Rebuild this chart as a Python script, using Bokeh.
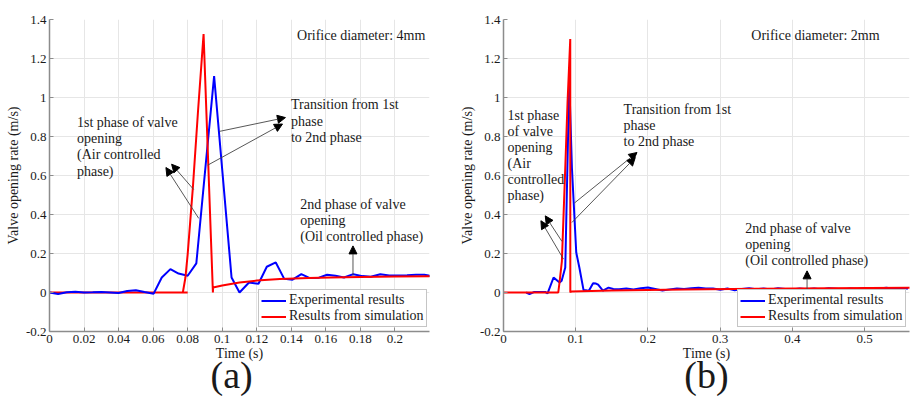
from bokeh.plotting import figure
from bokeh.layouts import row
from bokeh.models import (Range1d, FixedTicker, CustomJSTickFormatter, Legend, LegendItem,
                          Label, Arrow, NormalHead, Title)
from bokeh.embed import file_html
from bokeh.resources import INLINE

# ---------------- data ----------------
# Panel (a): orifice diameter 4 mm
exp_a_t = [0, 0.005, 0.01, 0.015, 0.02, 0.025, 0.03, 0.035, 0.04, 0.045, 0.05, 0.055,
           0.0603, 0.065, 0.070, 0.0747, 0.080, 0.085, 0.0953, 0.1054, 0.110, 0.1155,
           0.121, 0.1258, 0.131, 0.1359, 0.1407, 0.1458, 0.1507, 0.156, 0.1607, 0.1656,
           0.1705, 0.1759, 0.1812, 0.186, 0.1915, 0.1967, 0.2015, 0.207, 0.2122, 0.217, 0.221]
exp_a_v = [0, -0.008, 0.001, 0.004, 0.0, 0.001, 0.003, 0.0, -0.003, 0.008, 0.012, 0.003,
           -0.006, 0.077, 0.12, 0.097, 0.086, 0.149, 1.11, 0.077, 0.0, 0.051,
           0.045, 0.132, 0.154, 0.07, 0.066, 0.094, 0.074, 0.076, 0.091, 0.086,
           0.077, 0.094, 0.084, 0.081, 0.094, 0.087, 0.087, 0.089, 0.091, 0.091, 0.084]

sim_a_base_t = [0, 0.08]
sim_a_base_v = [0, 0]
sim_a_t = [0.0772, 0.0787, 0.080, 0.083, 0.086, 0.0892, 0.0946, 0.0947, 0.100, 0.105,
           0.110, 0.120, 0.1334, 0.150, 0.1625, 0.180, 0.200, 0.222]
sim_a_v = [0, 0.077, 0.197, 0.538, 0.932, 1.325, 0, 0.026, 0.036, 0.044,
           0.051, 0.061, 0.069, 0.074, 0.077, 0.080, 0.082, 0.084]

# Panel (b): orifice diameter 2 mm
exp_b_t = [0.0314, 0.036, 0.042, 0.05, 0.0577, 0.061, 0.0693, 0.0776, 0.0805, 0.0855,
           0.091, 0.0947, 0.1007, 0.105, 0.1108, 0.114, 0.118, 0.124, 0.128, 0.131,
           0.1376, 0.1454, 0.152, 0.16, 0.17, 0.18, 0.19, 0.2, 0.21, 0.22, 0.23, 0.24,
           0.25, 0.26, 0.27, 0.28, 0.29, 0.30, 0.31, 0.32, 0.33, 0.34, 0.35, 0.36, 0.37,
           0.38, 0.39, 0.40, 0.41, 0.42, 0.43, 0.44, 0.45, 0.46, 0.47, 0.48, 0.49, 0.50,
           0.51, 0.52, 0.53, 0.54, 0.55, 0.56]
exp_b_v = [0, -0.008, 0.002, 0.003, 0.003, -0.005, 0.077, 0.051, 0.06, 0.128,
           1.09, 0.64, 0.205, 0.128, 0.012, 0.012, 0.008, 0.048, 0.046, 0.04,
           0.01, 0.025, 0.018, 0.017, 0.02, 0.016, 0.022, 0.026, 0.018, 0.01, 0.016, 0.02,
           0.018, 0.022, 0.024, 0.02, 0.021, 0.014, 0.02, 0.012, 0.018, 0.022, 0.017, 0.02, 0.015,
           0.022, 0.018, 0.016, 0.021, 0.017, 0.02, 0.015, 0.022, 0.019, 0.016, 0.02, 0.018, 0.023,
           0.017, 0.02, 0.024, 0.019, 0.022, 0.02]

sim_b_t = [0, 0.0758, 0.0775, 0.0808, 0.0855, 0.0887, 0.0924, 0.0925, 0.0935,
           0.15, 0.25, 0.35, 0.45, 0.564]
sim_b_v = [0, 0, 0.05, 0.16, 0.64, 0.98, 1.30, 0, 0.005,
           0.01, 0.015, 0.019, 0.022, 0.025]

x_ticks_a = [0, 0.02, 0.04, 0.06, 0.08, 0.1, 0.12, 0.14, 0.16, 0.18, 0.2]
x_ticks_b = [0, 0.1, 0.2, 0.3, 0.4, 0.5]
y_ticks = [-0.2, 0, 0.2, 0.4, 0.6, 0.8, 1, 1.2, 1.4]

legend_labels = ["Experimental results", "Results from simulation"]

FONT = "Liberation Serif"
TXT = "#1a1a1a"
BLUE = "#0000ff"
RED = "#ff0000"
H = 396

fmt_code = "return String(Math.round(tick*1000)/1000);"


def base_fig(w, xmax, xticks, left, right, panel_label, label_offset):
    p = figure(width=w, height=H, output_backend="svg", toolbar_location=None,
               x_range=Range1d(0, xmax), y_range=Range1d(-0.2, 1.4),
               min_border_left=left, min_border_right=right,
               min_border_top=19, min_border_bottom=H - 331)
    p.outline_line_color = None
    p.background_fill_color = "white"
    p.border_fill_color = "white"
    for ax, ticks in ((p.xaxis, xticks), (p.yaxis, y_ticks)):
        ax.ticker = FixedTicker(ticks=ticks)
        ax.formatter = CustomJSTickFormatter(code=fmt_code)
        ax.axis_line_color = "#8c8c8c"
        ax.axis_line_width = 1.5
        ax.major_tick_line_color = "#8c8c8c"
        ax.major_tick_in = 4
        ax.major_tick_out = 0
        ax.minor_tick_line_color = None
        ax.major_label_text_font = FONT
        ax.major_label_text_font_size = "13px"
        ax.major_label_text_color = TXT
        ax.major_label_standoff = 3
    p.yaxis.axis_label = "Valve opening rate (m/s)"
    p.yaxis.axis_label_text_font = FONT
    p.yaxis.axis_label_text_font_size = "14px"
    p.yaxis.axis_label_text_font_style = "normal"
    p.yaxis.axis_label_text_color = TXT
    p.yaxis.axis_label_standoff = 2
    p.grid.grid_line_color = "#e6e6e6"
    p.grid.grid_line_width = 1
    p.add_layout(Title(text="Time (s)", align="center", vertical_align="middle",
                       text_font=FONT, text_font_size="14px", text_font_style="normal",
                       text_color=TXT, standoff=-1), "below")
    if label_offset is None:
        t = Title(text=panel_label, align="center", vertical_align="middle",
                  text_font=FONT, text_font_size="38px", text_font_style="normal",
                  text_color=TXT, standoff=-18)
    else:
        t = Title(text=panel_label, align="left", offset=label_offset, vertical_align="middle",
                  text_font=FONT, text_font_size="38px", text_font_style="normal",
                  text_color=TXT, standoff=-18)
    p.add_layout(t, "below")
    return p


def add_text(p, x, ys, lines, size="14px", align="left"):
    for y, t in zip(ys, lines):
        p.add_layout(Label(x=x, y=y, text=t, text_font=FONT, text_font_size=size,
                           text_color=TXT, text_align=align, text_baseline="middle"))


def add_arrow(p, x0, y0, x1, y1):
    p.add_layout(Arrow(end=NormalHead(size=8, fill_color="black", line_color="black", line_width=1),
                       x_start=x0, y_start=y0, x_end=x1, y_end=y1,
                       line_color="#444444", line_width=0.9))


def add_legend(p, r1, r2, loc):
    leg = Legend(items=[LegendItem(label=legend_labels[0], renderers=[r1]),
                        LegendItem(label=legend_labels[1], renderers=[r2])],
                 location=loc, orientation="vertical",
                 label_text_font=FONT, label_text_font_size="14px", label_text_color=TXT,
                 glyph_width=25, glyph_height=15, label_height=15, label_standoff=3,
                 spacing=0, padding=2, margin=0,
                 border_line_color="#8c8c8c", border_line_width=1,
                 background_fill_color="white", background_fill_alpha=1)
    p.add_layout(leg)


# ---------------- panel (a) ----------------
pa = base_fig(456, 0.22, x_ticks_a, 49, 27, "(a)", 161)
pa.line(sim_a_base_t, sim_a_base_v, color=RED, line_width=2)
ra_exp = pa.line(exp_a_t, exp_a_v, color=BLUE, line_width=2)
ra_sim = pa.line(sim_a_t, sim_a_v, color=RED, line_width=2)

add_text(pa, 0.1433, [1.316], ["Orifice diameter: 4mm"])
add_text(pa, 0.1398, [0.9626, 0.878, 0.793], ["Transition from 1st", "phase", "to 2nd phase"])
add_text(pa, 0.0159, [0.872, 0.791, 0.706, 0.622],
         ["1st phase of valve", "opening", "(Air controlled", "phase)"])
add_text(pa, 0.1452, [0.453, 0.368, 0.286],
         ["2nd phase of valve", "opening", "(Oil controlled phase)"])
add_arrow(pa, 0.0983, 0.826, 0.1366, 0.897)
add_arrow(pa, 0.0916, 0.653, 0.1349, 0.864)
add_arrow(pa, 0.0835, 0.528, 0.0707, 0.658)
add_arrow(pa, 0.0864, 0.380, 0.0674, 0.641)
add_arrow(pa, 0.1757, 0.086, 0.1757, 0.239)
add_legend(pa, ra_exp, ra_sim, (209, 4))

# ---------------- panel (b) ----------------
pb = base_fig(454, 0.562, x_ticks_b, 47, 1, "(b)", None)
rb_exp = pb.line(exp_b_t, exp_b_v, color=BLUE, line_width=2)
rb_sim = pb.line(sim_b_t, sim_b_v, color=RED, line_width=2)

add_text(pb, 0.343, [1.316], ["Orifice diameter: 2mm"])
add_text(pb, 0.0055, [0.906, 0.824, 0.742, 0.660, 0.578, 0.498],
         ["1st phase", "of valve", "opening", "(Air", "controlled", "phase)"])
add_text(pb, 0.1662, [0.940, 0.855, 0.773], ["Transition from 1st", "phase", "to 2nd phase"])
add_text(pb, 0.3348, [0.327, 0.245, 0.165],
         ["2nd phase of valve", "opening", "(Oil controlled phase)"])
add_arrow(pb, 0.0809, 0.262, 0.0578, 0.393)
add_arrow(pb, 0.0831, 0.171, 0.0518, 0.368)
add_arrow(pb, 0.0979, 0.458, 0.1848, 0.718)
add_arrow(pb, 0.0947, 0.359, 0.1824, 0.692)
add_arrow(pb, 0.4202, 0.017, 0.4202, 0.111)
add_legend(pb, rb_exp, rb_sim, (234, 4))

layout = row(pa, pb, spacing=0)
open("out.html", "w").write(file_html(layout, INLINE))
